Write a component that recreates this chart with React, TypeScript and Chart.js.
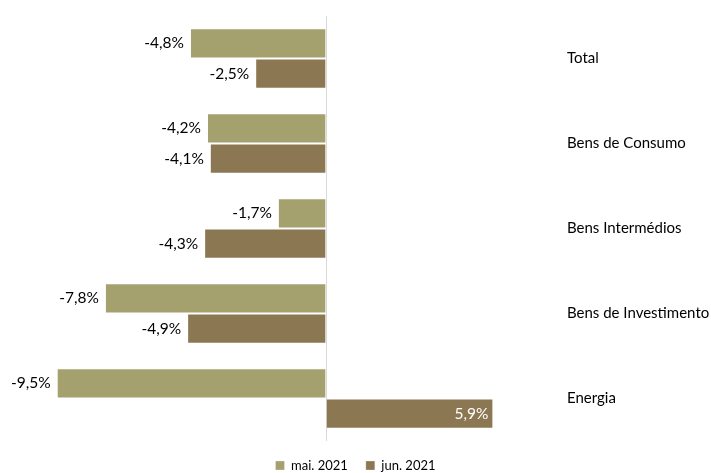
import React, { useEffect, useRef } from "react";
import { Chart, registerables } from "chart.js";

Chart.register(...registerables);

const categories = ["Total", "Bens de Consumo", "Bens Intermédios", "Bens de Investimento", "Energia"];
const seriesNames = ["mai. 2021", "jun. 2021"];
const maiValues = [-4.8, -4.2, -1.7, -7.8, -9.5];
const junValues = [-2.5, -4.1, -4.3, -4.9, 5.9];
const colors = ["#A5A16F", "#8B7853"];

const FONT = "Lato";

const fmt = (v: number) => v.toFixed(1).replace(".", ",") + "%";

const labelPlugin = {
  id: "barLabels",
  afterDatasetsDraw(chart: any) {
    const ctx = chart.ctx;
    ctx.save();
    ctx.font = `15.5px ${FONT}`;
    ctx.textBaseline = "middle";
    chart.data.datasets.forEach((ds: any, di: number) => {
      const meta = chart.getDatasetMeta(di);
      meta.data.forEach((el: any, i: number) => {
        const v = ds.data[i] as number;
        const { x, y, base } = el.getProps(["x", "y", "base"], true);
        if (v < 0) {
          ctx.fillStyle = "#000";
          ctx.textAlign = "right";
          ctx.fillText(fmt(v), Math.min(x, base) - 6, y);
        } else {
          ctx.fillStyle = "#fff";
          ctx.textAlign = "right";
          ctx.fillText(fmt(v), Math.max(x, base) - 5, y);
        }
      });
    });
    ctx.restore();
  },
};

export default function App() {
  const ref = useRef<HTMLCanvasElement>(null);
  useEffect(() => {
    if (!ref.current) return;
    const chart = new Chart(ref.current, {
      type: "bar",
      data: {
        labels: categories,
        datasets: [
          {
            label: seriesNames[0],
            data: maiValues,
            backgroundColor: colors[0],
            borderColor: "rgba(255,255,255,0.25)",
            borderWidth: 1,
            categoryPercentage: 0.713,
            barPercentage: 1,
          },
          {
            label: seriesNames[1],
            data: junValues,
            backgroundColor: colors[1],
            borderColor: "rgba(255,255,255,0.25)",
            borderWidth: 1,
            categoryPercentage: 0.713,
            barPercentage: 1,
          },
        ],
      },
      options: {
        indexAxis: "y",
        animation: false,
        responsive: true,
        maintainAspectRatio: false,
        layout: { padding: { top: 13, left: 0, right: 0, bottom: 0 } },
        scales: {
          x: {
            min: -11.5,
            max: 8.25,
            ticks: { display: false, stepSize: 1 },
            border: { display: false },
            grid: {
              drawTicks: false,
              color: (c: any) => (c.tick && c.tick.value === 0 ? "#d9d9d9" : "rgba(0,0,0,0)"),
              lineWidth: 1,
            },
          },
          y: {
            position: "right",
            border: { display: false },
            grid: { display: false, drawTicks: false },
            ticks: { color: "#000", font: { family: FONT, size: 15 }, padding: 7 },
            afterFit: (s: any) => {
              s.width = 151;
            },
          },
        },
        plugins: {
          tooltip: { enabled: false },
          legend: {
            position: "bottom",
            maxHeight: 32,
            labels: {
              boxWidth: 9,
              boxHeight: 9,
              padding: 18,
              color: "#000",
              font: { family: FONT, size: 13 },
            },
          },
        },
      },
      plugins: [labelPlugin],
    });
    return () => chart.destroy();
  }, []);
  return (
    <div style={{ position: "fixed", left: 0, top: 0, width: 711, height: 473, background: "#fff" }}>
      <canvas ref={ref} />
    </div>
  );
}
